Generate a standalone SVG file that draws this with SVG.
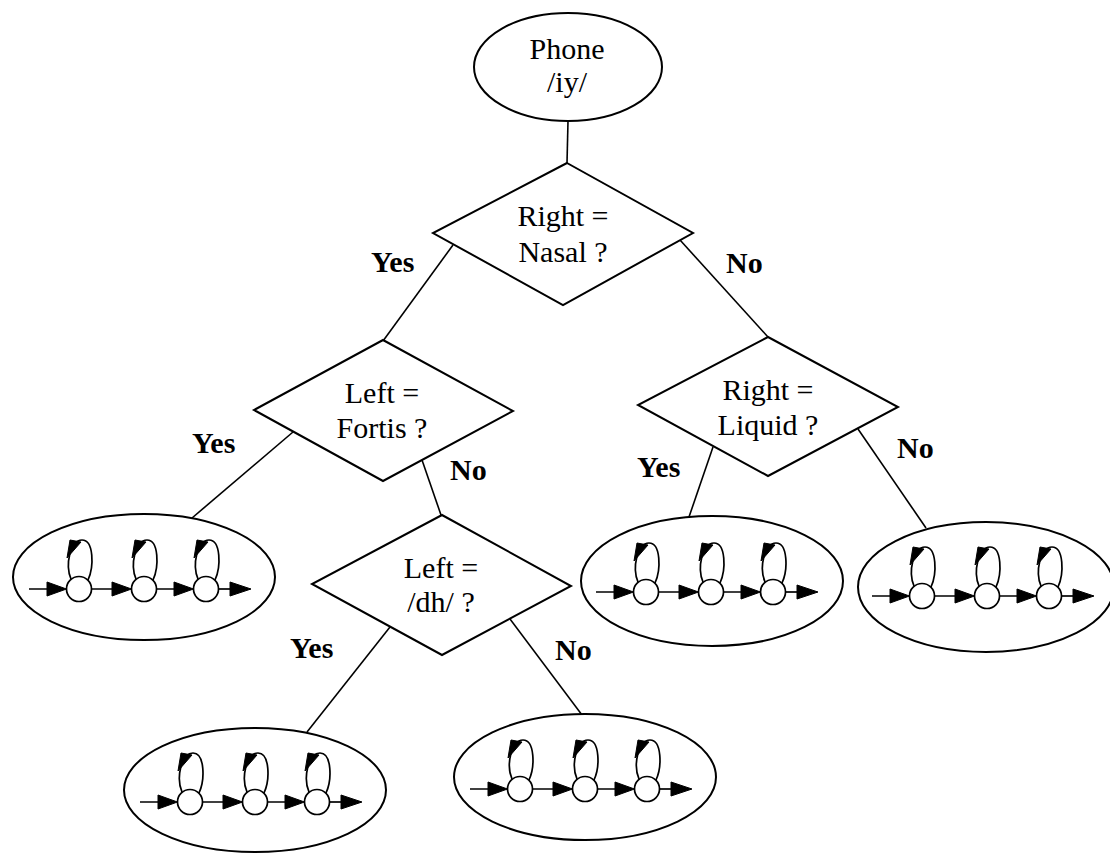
<svg xmlns="http://www.w3.org/2000/svg" xmlns:xlink="http://www.w3.org/1999/xlink" width="1110" height="853" viewBox="0 0 1110 853">
<style>
.shape{fill:#fff;stroke:#000;stroke-width:2}
.conn line{stroke:#000;stroke-width:1.6}
.t{font-family:"Liberation Serif","Times New Roman",serif;font-size:30px;fill:#000;text-anchor:middle}
.lbl{font-family:"Liberation Serif","Times New Roman",serif;font-size:30px;font-weight:bold;fill:#000}
.st{fill:#fff;stroke:#000;stroke-width:1.7}
.ln{fill:none;stroke:#000;stroke-width:1.7}
.ah{fill:#000;stroke:#000;stroke-width:1;stroke-linejoin:round}
</style>
<defs>
<g id="loop">
<path class="ln" d="M9,-9 C15,-22 15,-49 3,-49 C-9,-49 -14,-24 -8,-10"/>
<polygon class="ah" points="-9,-49 2,-47 -12,-31"/>
</g>
<g id="hmm">
<line class="ln" x1="-115" y1="0" x2="-80" y2="0"/>
<polygon class="ah" points="-77.5,0 -97,-7 -97,7"/>
<line class="ln" x1="-52.5" y1="0" x2="-15" y2="0"/>
<polygon class="ah" points="-12.5,0 -32,-7 -32,7"/>
<line class="ln" x1="12.5" y1="0" x2="47" y2="0"/>
<polygon class="ah" points="49.5,0 30,-7 30,7"/>
<line class="ln" x1="74.5" y1="0" x2="104" y2="0"/>
<polygon class="ah" points="107,0 86,-7 86,7"/>
<use xlink:href="#loop" href="#loop" x="-65" y="0"/>
<use xlink:href="#loop" href="#loop" x="0" y="0"/>
<use xlink:href="#loop" href="#loop" x="62" y="0"/>
<circle class="st" cx="-65" cy="0" r="12.5"/>
<circle class="st" cx="0" cy="0" r="12.5"/>
<circle class="st" cx="62" cy="0" r="12.5"/>
</g>
</defs>
<rect width="1110" height="853" fill="#fff"/>

<g id="connectors" class="conn">
<line x1="568" y1="121" x2="567" y2="163"/>
<line x1="453" y1="245" x2="383" y2="341"/>
<line x1="680" y1="240" x2="768" y2="337"/>
<line x1="293" y1="432" x2="192" y2="518"/>
<line x1="422" y1="460" x2="441" y2="515"/>
<line x1="713" y1="447" x2="689" y2="517"/>
<line x1="858" y1="429" x2="926" y2="528"/>
<line x1="390" y1="627" x2="307" y2="732"/>
<line x1="510" y1="619" x2="582" y2="715"/>
</g>

<g id="root">
<ellipse class="shape" cx="568" cy="67" rx="94" ry="54"/>
<text class="t" x="567" y="59">Phone</text>
<text class="t" x="567" y="92">/iy/</text>
</g>

<g id="q-right-nasal">
<polygon class="shape" points="567,163 693,233 563,305 433,233"/>
<text class="t" x="563" y="226">Right =</text>
<text class="t" x="563" y="262">Nasal ?</text>
</g>

<g id="q-left-fortis">
<polygon class="shape" points="383,340 513,411 383,481 254,410"/>
<text class="t" x="382" y="403">Left =</text>
<text class="t" x="382" y="438">Fortis ?</text>
</g>

<g id="q-right-liquid">
<polygon class="shape" points="768,337 898,407 768,476 638,405"/>
<text class="t" x="768" y="400">Right =</text>
<text class="t" x="768" y="435">Liquid ?</text>
</g>

<g id="q-left-dh">
<polygon class="shape" points="442,515 571,586 442,655 312,584"/>
<text class="t" x="441" y="578">Left =</text>
<text class="t" x="441" y="612">/dh/ ?</text>
</g>

<g id="hmm-fortis-yes">
<ellipse class="shape" cx="144" cy="577" rx="131" ry="63"/>
<use xlink:href="#hmm" href="#hmm" x="144" y="589"/>
</g>

<g id="hmm-liquid-yes">
<ellipse class="shape" cx="712" cy="581" rx="131" ry="65"/>
<use xlink:href="#hmm" href="#hmm" x="711" y="592"/>
</g>

<g id="hmm-liquid-no">
<ellipse class="shape" cx="986" cy="587" rx="128" ry="65"/>
<use xlink:href="#hmm" href="#hmm" x="987" y="596"/>
</g>

<g id="hmm-dh-yes">
<ellipse class="shape" cx="255" cy="790" rx="131" ry="62"/>
<use xlink:href="#hmm" href="#hmm" x="255" y="802"/>
</g>

<g id="hmm-dh-no">
<ellipse class="shape" cx="585" cy="777" rx="131" ry="63"/>
<use xlink:href="#hmm" href="#hmm" x="585" y="789"/>
</g>

<g id="labels">
<text class="lbl" x="371" y="272">Yes</text>
<text class="lbl" x="726" y="273">No</text>
<text class="lbl" x="192" y="453">Yes</text>
<text class="lbl" x="450" y="480">No</text>
<text class="lbl" x="637" y="477">Yes</text>
<text class="lbl" x="897" y="458">No</text>
<text class="lbl" x="290" y="658">Yes</text>
<text class="lbl" x="555" y="660">No</text>
</g>
</svg>
